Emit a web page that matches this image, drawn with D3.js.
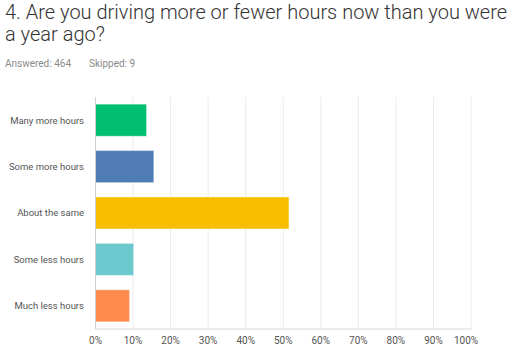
<!DOCTYPE html>
<html>
<head>
<meta charset="utf-8">
<script src="https://cdn.jsdelivr.net/npm/d3@7"></script>
<style>
  body { margin: 0; background: #fff; }
  svg { display: block; font-family: "Roboto", "Noto Sans", sans-serif; }
</style>
</head>
<body>
<svg></svg>
<script>
var answers = ['Many more hours', 'Some more hours', 'About the same', 'Some less hours', 'Much less hours'];
var percents = [13.58, 15.52, 51.51, 10.13, 9.05];
var colors = ['#00bf6f', '#507cb6', '#f9be00', '#6bc8cd', '#ff8b4f'];
var ticks = [0, 10, 20, 30, 40, 50, 60, 70, 80, 90, 100];

var width = 524, height = 352;
var margin = { top: 97, right: 53, bottom: 23, left: 95.5 };

var svg = d3.select('svg')
  .attr('width', width)
  .attr('height', height);

// title and counts
svg.append('text')
  .attr('x', 5).attr('y', 19)
  .attr('font-size', 20).attr('font-weight', 300).attr('fill', '#333')
  .text('4. Are you driving more or fewer hours now than you were');
svg.append('text')
  .attr('x', 5).attr('y', 41)
  .attr('font-size', 20).attr('font-weight', 300).attr('fill', '#333')
  .text('a year ago?');
svg.append('text')
  .attr('x', 5).attr('y', 67)
  .attr('font-size', 10).attr('fill', '#8a8a8a')
  .text('Answered: 464');
svg.append('text')
  .attr('x', 89).attr('y', 67)
  .attr('font-size', 10).attr('fill', '#8a8a8a')
  .text('Skipped: 9');

var x = d3.scaleLinear()
  .domain([0, 100])
  .range([margin.left, width - margin.right]);

var y = d3.scaleBand()
  .domain(answers)
  .range([margin.top, height - margin.bottom])
  .paddingInner(0.31)
  .paddingOuter(0.155);

var g = svg.append('g');

// gridlines
g.selectAll('.grid')
  .data(ticks.slice(1))
  .enter().append('line')
  .attr('x1', function (d) { return x(d); })
  .attr('x2', function (d) { return x(d); })
  .attr('y1', margin.top)
  .attr('y2', height - margin.bottom)
  .attr('stroke', '#ececec')
  .attr('stroke-width', 1);

// bars
g.selectAll('.bar')
  .data(answers)
  .enter().append('rect')
  .attr('x', x(0))
  .attr('y', function (d) { return y(d); })
  .attr('width', function (d, i) { return x(percents[i]) - x(0); })
  .attr('height', y.bandwidth())
  .attr('fill', function (d, i) { return colors[i]; })
  .attr('stroke', '#fff')
  .attr('stroke-opacity', 0.35)
  .attr('stroke-width', 1);

// axis lines
g.append('line')
  .attr('x1', x(0)).attr('x2', x(0))
  .attr('y1', margin.top).attr('y2', height - margin.bottom)
  .attr('stroke', '#d0d0d0');
g.append('line')
  .attr('x1', x(0)).attr('x2', x(100))
  .attr('y1', height - margin.bottom).attr('y2', height - margin.bottom)
  .attr('stroke', '#d8d8d8');

// category labels
g.selectAll('.label')
  .data(answers)
  .enter().append('text')
  .attr('x', 84)
  .attr('y', function (d) { return y(d) + y.bandwidth() / 2; })
  .attr('dy', '0.35em')
  .attr('text-anchor', 'end')
  .attr('font-size', 9.5)
  .attr('fill', '#555')
  .text(function (d) { return d; });

// tick labels
g.selectAll('.tick')
  .data(ticks)
  .enter().append('text')
  .attr('x', function (d) { return d === 100 ? x(d) - 5 : x(d); })
  .attr('y', 344)
  .attr('text-anchor', 'middle')
  .attr('font-size', 10)
  .attr('fill', '#555')
  .text(function (d) { return d + '%'; });
</script>
</body>
</html>
